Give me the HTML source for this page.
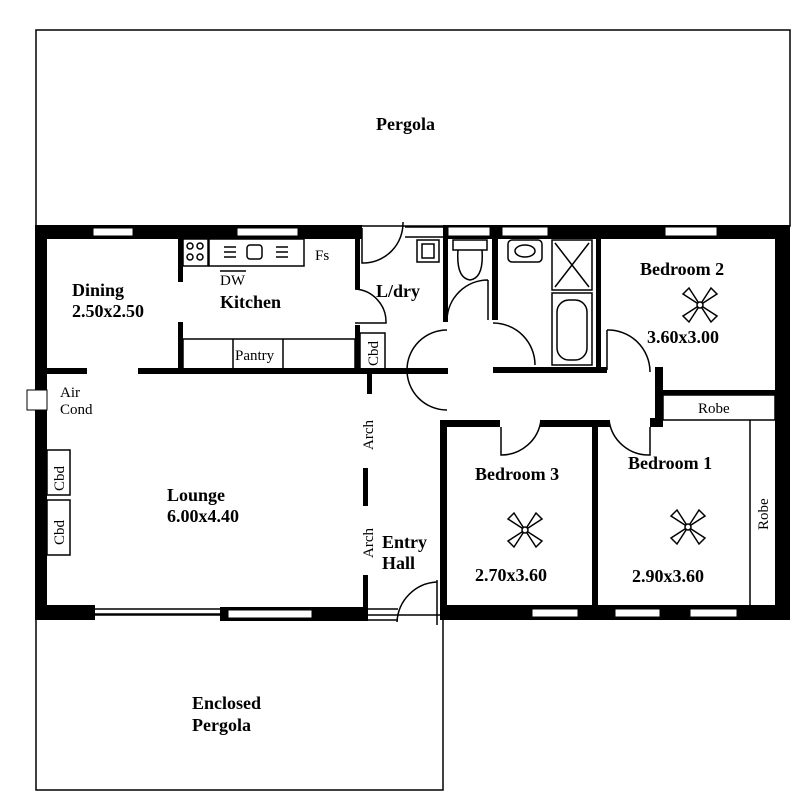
<!DOCTYPE html>
<html><head><style>html,body{margin:0;padding:0;background:#fff}svg{display:block}
text{font-family:"Liberation Serif",serif;fill:#000}
.b{font-weight:bold;font-size:18px}.s{font-size:15px}</style></head><body>
<svg width="800" height="806" viewBox="0 0 800 806" xmlns="http://www.w3.org/2000/svg">
<g fill="none" stroke="#000" stroke-width="1.5">
<rect x="36" y="30" width="754" height="196"/>
<rect x="36" y="615" width="407" height="175"/>
</g>
<g fill="#000">
<rect x="35" y="225" width="327" height="14"/>
<rect x="443" y="225" width="347" height="14"/>
<rect x="443" y="225" width="5" height="97"/>
<rect x="492" y="225" width="6" height="95"/>
<rect x="35" y="225" width="12" height="395"/>
<rect x="775" y="225" width="15" height="395"/>
<rect x="178" y="239" width="5" height="43"/>
<rect x="178" y="322" width="5" height="50"/>
<rect x="355" y="239" width="5" height="50"/>
<rect x="355" y="325" width="5" height="48"/>
<rect x="35" y="368" width="52" height="6"/>
<rect x="138" y="368" width="310" height="6"/>
<rect x="493" y="367" width="114" height="6"/>
<rect x="596" y="238" width="5" height="133"/>
<rect x="367" y="374" width="5" height="20"/>
<rect x="655" y="367" width="8" height="53"/>
<rect x="663" y="390" width="112" height="5"/>
<rect x="440" y="420" width="60" height="7"/>
<rect x="540" y="420" width="70" height="7"/>
<rect x="650" y="418" width="13" height="9"/>
<rect x="440" y="420" width="7" height="200"/>
<rect x="592" y="420" width="6" height="190"/>
<rect x="440" y="605" width="350" height="15"/>
<rect x="363" y="468" width="5" height="38"/>
<rect x="363" y="575" width="5" height="42"/>
<rect x="40" y="605" width="55" height="15"/>
<rect x="220" y="607" width="148" height="14"/>
</g>
<g fill="#fff" stroke="#000" stroke-width="1">
<rect x="93" y="228" width="40" height="8"/>
<rect x="237" y="228" width="61" height="8"/>
<rect x="448" y="227" width="42" height="9"/>
<rect x="502" y="227" width="46" height="9"/>
<rect x="665" y="227" width="52" height="9"/>
<rect x="532" y="609" width="46" height="8"/>
<rect x="615" y="609" width="45" height="8"/>
<rect x="690" y="609" width="47" height="8"/>
<rect x="228" y="610" width="84" height="8"/>
<rect x="27" y="390" width="20" height="20"/>
</g>
<g fill="none" stroke="#000" stroke-width="1.5">
<line x1="405" y1="227" x2="443" y2="227"/><line x1="405" y1="237" x2="443" y2="237"/>
<line x1="95" y1="609" x2="220" y2="609"/><line x1="95" y1="614" x2="220" y2="614"/>
<line x1="368" y1="609" x2="398" y2="609"/><line x1="368" y1="620" x2="398" y2="620"/>
<rect x="183" y="239" width="25" height="27"/>
<rect x="209" y="239" width="95" height="27"/>
<circle cx="190" cy="246" r="3"/><circle cx="200" cy="246" r="3"/>
<circle cx="190" cy="257" r="3"/><circle cx="200" cy="257" r="3"/>
<rect x="247" y="245" width="15" height="14" rx="3"/>
<path d="M224 247h12M224 252h12M224 257h12M276 247h12M276 252h12M276 257h12"/>
<line x1="220" y1="271" x2="246" y2="271"/>
<rect x="183" y="339" width="172" height="31"/>
<line x1="233" y1="339" x2="233" y2="370"/><line x1="283" y1="339" x2="283" y2="370"/>
<rect x="360" y="333" width="25" height="37"/>
<rect x="417" y="240" width="22" height="22"/><rect x="422" y="244" width="12" height="14"/>
<rect x="453" y="240" width="34" height="10"/>
<path d="M458 250 q-2 28 12 30 q14 -2 12 -30"/>
<rect x="508" y="240" width="34" height="22" rx="4"/><ellipse cx="525" cy="251" rx="10" ry="6"/>
<rect x="552" y="240" width="40" height="50"/>
<path d="M555 243 L589 287 M589 243 L555 287"/>
<rect x="552" y="293" width="40" height="72"/>
<rect x="557" y="300" width="30" height="60" rx="12"/>
<rect x="663" y="395" width="112" height="25"/>
<line x1="750" y1="420" x2="750" y2="607"/>
<rect x="47" y="450" width="23" height="45"/>
<rect x="47" y="500" width="23" height="55"/>
<path d="M362 228 L362 263 A40 40 0 0 0 403 222"/>
<path d="M355 289 A33 33 0 0 1 386 323 L355 323"/>
<path d="M488 280 L488 320 M488 280 A41 41 0 0 0 447 320"/>
<path d="M407 370 A40 40 0 0 1 447 330"/>
<path d="M407 370 A40 40 0 0 0 447 410"/>
<path d="M493 323 A42 42 0 0 1 535 365"/>
<path d="M607 330 L607 370 M607 330 A42 42 0 0 1 650 372"/>
<path d="M501 427 L501 455 A40 40 0 0 0 541 420"/>
<path d="M650 427 L650 455 A40 40 0 0 1 609 420"/>
<path d="M437 580 L437 625 M437 582 A42 42 0 0 0 397 622"/>
</g>
<g fill="#fff" stroke="#000" stroke-width="1.5">
<g transform="translate(700,305)"><path d="M0 0 L-17 -11 L-11 -17 Z M0 0 L17 -11 L11 -17 Z M0 0 L-17 11 L-11 17 Z M0 0 L17 11 L11 17 Z"/><circle r="3"/></g>
<g transform="translate(525,530)"><path d="M0 0 L-17 -11 L-11 -17 Z M0 0 L17 -11 L11 -17 Z M0 0 L-17 11 L-11 17 Z M0 0 L17 11 L11 17 Z"/><circle r="3"/></g>
<g transform="translate(688,527)"><path d="M0 0 L-17 -11 L-11 -17 Z M0 0 L17 -11 L11 -17 Z M0 0 L-17 11 L-11 17 Z M0 0 L17 11 L11 17 Z"/><circle r="3"/></g>
</g>
<text class="b" x="376" y="130">Pergola</text>
<text class="b" x="72" y="296">Dining</text>
<text class="b" x="72" y="317">2.50x2.50</text>
<text class="s" x="220" y="285">DW</text>
<text class="b" x="220" y="308">Kitchen</text>
<text class="s" x="315" y="260">Fs</text>
<text class="s" x="235" y="360">Pantry</text>
<text class="b" x="376" y="297">L/dry</text>
<text class="b" x="640" y="275">Bedroom 2</text>
<text class="b" x="647" y="343">3.60x3.00</text>
<text class="s" x="698" y="413">Robe</text>
<text class="s" x="60" y="397">Air</text>
<text class="s" x="60" y="414">Cond</text>
<text class="b" x="167" y="501">Lounge</text>
<text class="b" x="167" y="522">6.00x4.40</text>
<text class="b" x="382" y="548">Entry</text>
<text class="b" x="382" y="569">Hall</text>
<text class="b" x="475" y="480">Bedroom 3</text>
<text class="b" x="475" y="581">2.70x3.60</text>
<text class="b" x="628" y="469">Bedroom 1</text>
<text class="b" x="632" y="582">2.90x3.60</text>
<text class="b" x="192" y="709">Enclosed</text>
<text class="b" x="192" y="731">Pergola</text>
<text class="s" transform="translate(378,366) rotate(-90)">Cbd</text>
<text class="s" transform="translate(64,491) rotate(-90)">Cbd</text>
<text class="s" transform="translate(64,545) rotate(-90)">Cbd</text>
<text class="s" transform="translate(373,450) rotate(-90)">Arch</text>
<text class="s" transform="translate(373,558) rotate(-90)">Arch</text>
<text class="s" transform="translate(768,530) rotate(-90)">Robe</text>
</svg>
</body></html>
